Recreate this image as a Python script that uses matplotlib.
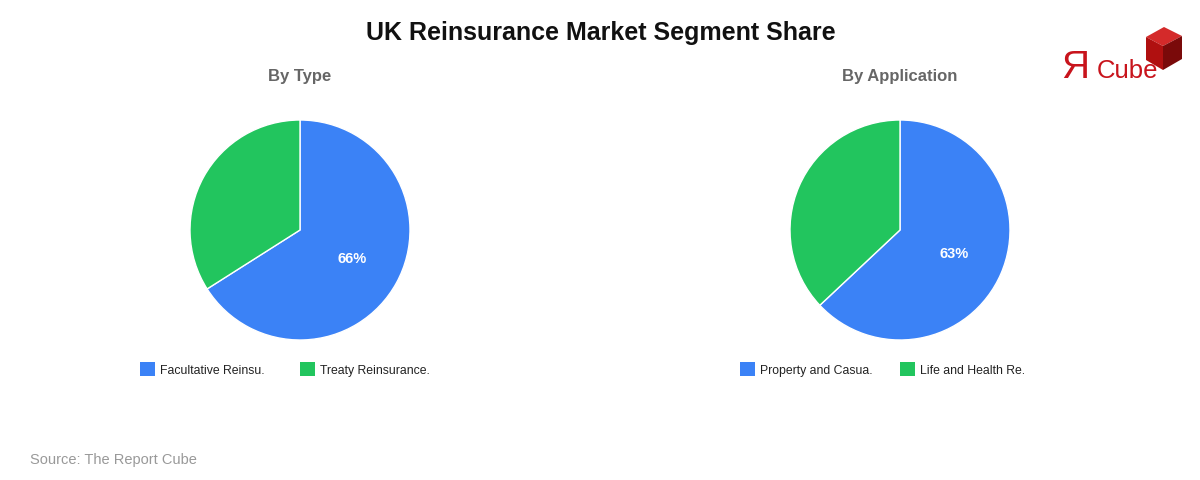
import matplotlib
matplotlib.use("Agg")
import matplotlib.pyplot as plt
from matplotlib.patches import Rectangle, Polygon
import math

plt.rcParams['font.family'] = ['Liberation Sans', 'DejaVu Sans']

title = "UK Reinsurance Market Segment Share"
type_labels = ["Facultative Reinsu.", "Treaty Reinsurance."]
type_values = [66, 34]
app_labels = ["Property and Casua.", "Life and Health Re."]
app_values = [63, 37]
colors = ["#3B82F6", "#22C55E"]

W, H = 1200, 480
fig = plt.figure(figsize=(12, 4.8), dpi=100)

def fx(x):
    return x / W

def fy(y):
    return 1 - y / H

fig.text(fx(601), fy(33), title, ha='center', va='center', fontsize=18,
         fontweight='bold', color='#111111')

def draw_pie(cx, cy, r, values, labels, subtitle):
    ax = fig.add_axes([fx(cx - r), fy(cy + r), 2 * r / W, 2 * r / H])
    ax.pie(values, colors=colors, startangle=90, counterclock=False,
           wedgeprops=dict(edgecolor='white', linewidth=1))
    ax.set_aspect('equal')
    ax.set_xlim(-1, 1)
    ax.set_ylim(-1, 1)
    ax.axis('off')
    frac = values[0] / sum(values)
    ang = math.radians(90 - frac * 360 / 2)
    d = 0.54
    ax.text(d * math.cos(ang), d * math.sin(ang), f"{values[0]}%", ha='center',
            va='center', color='white', fontsize=10.5, fontweight='bold')
    fig.text(fx(cx), fy(77), subtitle, ha='center', va='center', fontsize=12,
             fontweight='bold', color='#666666')
    xs = [cx - 160, cx]
    for x0, lab, c in zip(xs, labels, colors):
        fig.patches.append(Rectangle((fx(x0), fy(376)), 15 / W, 14 / H,
                                     transform=fig.transFigure, facecolor=c,
                                     edgecolor='none'))
        fig.text(fx(x0 + 20), fy(374), lab, ha='left', va='baseline',
                 fontsize=8.8, color='#222222')

draw_pie(300, 230, 110, type_values, type_labels, "By Type")
draw_pie(900, 230, 110, app_values, app_labels, "By Application")

fig.text(fx(30), fy(460), "Source: The Report Cube", ha='left', va='center',
         fontsize=10.5, color='#999999')

# logo
fig.text(fx(1061), fy(78), "Я", ha='left', va='baseline', fontsize=28,
         color='#C8141C')
top = [(1146, 37), (1164, 27), (1182, 36), (1163, 46)]
left = [(1146, 37), (1163, 46), (1163, 70), (1146, 60)]
right = [(1163, 46), (1182, 36), (1182, 59), (1163, 70)]
for pts, c in [(top, '#D42A2A'), (left, '#B01010'), (right, '#7A0A0A')]:
    fig.patches.append(Polygon([(fx(x), fy(y)) for x, y in pts], closed=True,
                               transform=fig.transFigure, facecolor=c,
                               edgecolor='none'))
fig.text(fx(1097), fy(78), "Cube", ha='left', va='baseline', fontsize=18.5,
         color='#C8141C', zorder=5)

fig.savefig("out.png", dpi=100, facecolor='white')
